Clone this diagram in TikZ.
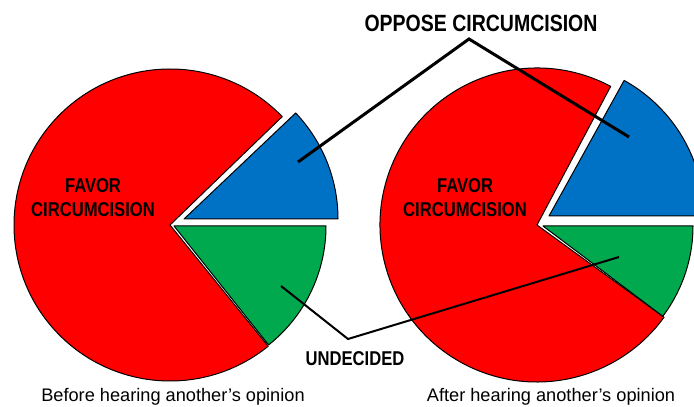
\documentclass[tikz,border=0pt]{standalone}
\usepackage{fontspec}
\setmainfont{Liberation Sans}
\newfontfamily\condfont{Liberation Sans}[FakeStretch=0.83]
\usepackage{tikz}
\usetikzlibrary{positioning}
\definecolor{favred}{RGB}{255,0,0}
\definecolor{oppblue}{RGB}{0,114,198}
\definecolor{undgreen}{RGB}{0,168,78}
\tikzset{
        slice/.style={draw=black, line width=1pt, line join=round},
        pielabel/.style={font=\condfont\bfseries\fontsize{20}{24}\selectfont,
                         align=center, inner sep=0pt},
        toplabel/.style={pielabel, font=\condfont\bfseries\fontsize{23.5}{28}\selectfont},
        caption/.style={font=\fontsize{18.2}{22}\selectfont, inner sep=0pt,
                        anchor=base},
        oppline/.style={line width=3pt},
        undline/.style={line width=2pt},
 }

\begin{document}
\begin{tikzpicture}[x=1pt, y=1pt]
    \useasboundingbox (0,0) rectangle (694,407);
    \clip (0,0) rectangle (694,407);

    % before
    \draw[slice, fill=favred] (170,182) -- ++(44:156)
        arc[start angle=44, end angle=309, radius=156] -- cycle;
    \draw[slice, fill=undgreen] (174,181) -- ++(-51.5:152)
        arc[start angle=-51.5, end angle=0, radius=152] -- cycle;
    \draw[slice, fill=oppblue] (184,188) -- ++(0:154)
        arc[start angle=0, end angle=43.5, radius=154] -- cycle;

    % after
    \draw[slice, fill=favred] (537,182) -- ++(62:157)
        arc[start angle=62, end angle=324, radius=157] -- cycle;
    \draw[slice, fill=undgreen] (543,181) -- ++(-37:150)
        arc[start angle=-37, end angle=0, radius=150] -- cycle;
    \draw[slice, fill=oppblue] (549,191) -- ++(0:155)
        arc[start angle=0, end angle=61, radius=155] -- cycle;

    \coordinate (oppL) at (298,245);
    \coordinate (oppR) at (629,270);
    \coordinate (oppV) at (469,368);
    \coordinate (undL) at (281,121);
    \coordinate (undR) at (619,150);
    \coordinate (undV) at (348,68);

    \draw[oppline] (oppL) -- (oppV) -- (oppR);
    \draw[undline] (undL) -- (undV) -- (undR);

    \node[pielabel] (favL) at (93,209) {FAVOR\\CIRCUMCISION};
    \node[pielabel] (favR) at (465,209) {FAVOR\\CIRCUMCISION};
    \node[toplabel] (opp) at (481,383.5) {OPPOSE CIRCUMCISION};
    \node[pielabel] (und) at (355,48.5) {UNDECIDED};

    \node[caption] (before) at (173,5) {Before hearing another’s opinion};
    \node[caption] (after) at (551,5) {After hearing another’s opinion};
\end{tikzpicture}
\end{document}
